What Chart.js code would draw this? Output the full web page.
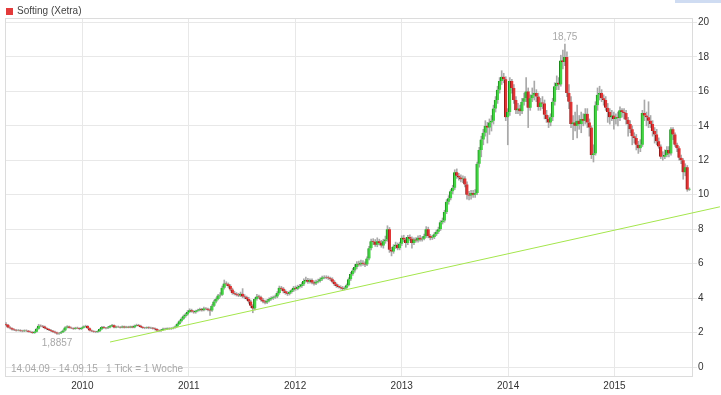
<!DOCTYPE html>
<html>
<head>
<meta charset="utf-8">
<title>Softing (Xetra)</title>
<script src="https://cdn.jsdelivr.net/npm/chart.js@4.4.0/dist/chart.umd.min.js"></script>
<style>
    html, body { margin: 0; padding: 0; background: #fff; }
    #chartBox { position: relative; width: 721px; height: 395px; }
</style>
</head>
<body>
<div id="chartBox"><canvas id="priceChart" width="721" height="395"></canvas></div>
<script>
// Weekly candles, 14.04.09 - 14.09.15 (1 Tick = 1 Woche), index = week number
const opens = [
    2.50, 2.45, 2.30, 2.25, 2.18, 2.15, 2.12, 2.14, 2.10, 2.08,
    2.12, 2.10, 2.05, 2.02, 1.98, 2.05, 2.22, 2.40, 2.38, 2.35,
    2.25, 2.20, 2.15, 2.10, 2.05, 2.00, 1.95, 1.96, 2.02, 2.12,
    2.30, 2.35, 2.28, 2.25, 2.22, 2.28, 2.25, 2.20, 2.28, 2.35,
    2.38, 2.25, 2.12, 2.08, 2.05, 2.03, 2.08, 2.20, 2.32, 2.28,
    2.25, 2.30, 2.38, 2.42, 2.30, 2.34, 2.32, 2.30, 2.35, 2.30,
    2.33, 2.30, 2.35, 2.30, 2.40, 2.44, 2.40, 2.32, 2.28, 2.26,
    2.30, 2.26, 2.28, 2.24, 2.20, 2.12, 2.10, 2.15, 2.22, 2.20,
    2.24, 2.22, 2.25, 2.28, 2.35, 2.50, 2.65, 2.80, 2.95, 3.05,
    3.20, 3.30, 3.22, 3.18, 3.25, 3.30, 3.35, 3.30, 3.40, 3.38,
    3.32, 3.28, 3.55, 3.80, 3.95, 4.15, 4.20, 4.60, 4.85, 4.80,
    4.70, 4.50, 4.30, 4.25, 4.20, 4.15, 4.25, 4.10, 4.05, 3.95,
    3.80, 3.55, 3.40, 3.95, 4.10, 4.05, 3.90, 3.80, 3.75, 3.85,
    3.95, 4.00, 4.05, 4.10, 4.30, 4.60, 4.55, 4.40, 4.30, 4.25,
    4.35, 4.45, 4.60, 4.55, 4.65, 4.70, 4.80, 5.00, 5.05, 4.95,
    5.05, 4.90, 4.85, 4.95, 5.00, 5.10, 5.20, 5.22, 5.20, 5.15,
    5.10, 4.95, 4.80, 4.70, 4.65, 4.60, 4.55, 4.60, 4.75, 5.10,
    5.40, 5.60, 5.80, 6.00, 5.95, 6.05, 6.00, 5.95, 6.30, 6.90,
    7.30, 7.25, 7.10, 7.30, 7.20, 7.05, 7.30, 7.40, 8.00, 6.80,
    6.70, 7.00, 7.10, 6.90, 7.15, 7.50, 7.40, 7.20, 7.55, 7.45,
    7.20, 7.40, 7.35, 7.50, 7.40, 7.45, 7.60, 8.00, 7.60, 7.50,
    7.55, 7.70, 7.85, 8.00, 8.40, 8.50, 9.00, 9.60, 9.80, 10.20,
    10.40, 11.30, 11.10, 11.00, 10.90, 10.95, 10.60, 10.00, 9.95, 10.10,
    10.00, 10.10, 11.80, 12.60, 13.20, 13.60, 14.00, 13.90, 14.20, 14.30,
    15.00, 15.50, 16.10, 16.60, 16.85, 16.70, 14.50, 14.80, 16.60, 16.20,
    15.50, 14.90, 15.00, 14.85, 15.40, 15.60, 16.00, 15.05, 15.60, 15.80,
    15.90, 15.70, 15.10, 15.35, 15.30, 14.65, 14.40, 14.20, 14.50, 15.40,
    16.30, 16.50, 16.40, 17.80, 17.70, 18.00, 15.90, 15.40, 14.10, 14.20,
    14.00, 14.30, 14.10, 14.40, 14.30, 14.70, 14.20, 13.90, 12.30, 12.40,
    15.20, 15.80, 15.90, 15.60, 15.50, 15.05, 14.80, 14.50, 14.60, 14.40,
    14.50, 14.45, 14.90, 14.80, 14.75, 14.35, 14.10, 13.80, 13.40, 13.30,
    12.90, 12.70, 12.90, 14.75, 14.60, 14.50, 14.30, 14.10, 13.70, 13.50,
    13.10, 12.80, 12.20, 12.20, 12.30, 12.60, 12.40, 13.80, 13.50, 12.90,
    12.70, 12.15, 12.00, 11.30, 11.60, 10.30
];
const closes = [
    2.45, 2.30, 2.25, 2.18, 2.15, 2.12, 2.14, 2.10, 2.08, 2.12,
    2.10, 2.05, 2.02, 1.98, 2.05, 2.22, 2.40, 2.38, 2.35, 2.25,
    2.20, 2.15, 2.10, 2.05, 2.00, 1.95, 1.96, 2.02, 2.12, 2.30,
    2.35, 2.28, 2.25, 2.22, 2.28, 2.25, 2.20, 2.28, 2.35, 2.38,
    2.25, 2.12, 2.08, 2.05, 2.03, 2.08, 2.20, 2.32, 2.28, 2.25,
    2.30, 2.38, 2.42, 2.30, 2.34, 2.32, 2.30, 2.35, 2.30, 2.33,
    2.30, 2.35, 2.30, 2.40, 2.44, 2.40, 2.32, 2.28, 2.26, 2.30,
    2.26, 2.28, 2.24, 2.20, 2.12, 2.10, 2.15, 2.22, 2.20, 2.24,
    2.22, 2.25, 2.28, 2.35, 2.50, 2.65, 2.80, 2.95, 3.05, 3.20,
    3.30, 3.22, 3.18, 3.25, 3.30, 3.35, 3.30, 3.40, 3.38, 3.32,
    3.28, 3.55, 3.80, 3.95, 4.15, 4.20, 4.60, 4.85, 4.80, 4.70,
    4.50, 4.30, 4.25, 4.20, 4.15, 4.25, 4.10, 4.05, 3.95, 3.80,
    3.55, 3.40, 3.95, 4.10, 4.05, 3.90, 3.80, 3.75, 3.85, 3.95,
    4.00, 4.05, 4.10, 4.30, 4.60, 4.55, 4.40, 4.30, 4.25, 4.35,
    4.45, 4.60, 4.55, 4.65, 4.70, 4.80, 5.00, 5.05, 4.95, 5.05,
    4.90, 4.85, 4.95, 5.00, 5.10, 5.20, 5.22, 5.20, 5.15, 5.10,
    4.95, 4.80, 4.70, 4.65, 4.60, 4.55, 4.60, 4.75, 5.10, 5.40,
    5.60, 5.80, 6.00, 5.95, 6.05, 6.00, 5.95, 6.30, 6.90, 7.30,
    7.25, 7.10, 7.30, 7.20, 7.05, 7.30, 7.40, 8.00, 6.80, 6.70,
    7.00, 7.10, 6.90, 7.15, 7.50, 7.40, 7.20, 7.55, 7.45, 7.20,
    7.40, 7.35, 7.50, 7.40, 7.45, 7.60, 8.00, 7.60, 7.50, 7.55,
    7.70, 7.85, 8.00, 8.40, 8.50, 9.00, 9.60, 9.80, 10.20, 10.40,
    11.30, 11.10, 11.00, 10.90, 10.95, 10.60, 10.00, 9.95, 10.10, 10.00,
    10.10, 11.80, 12.60, 13.20, 13.60, 14.00, 13.90, 14.20, 14.30, 15.00,
    15.50, 16.10, 16.60, 16.85, 16.70, 14.50, 14.80, 16.60, 16.20, 15.50,
    14.90, 15.00, 14.85, 15.40, 15.60, 16.00, 15.05, 15.60, 15.80, 15.90,
    15.70, 15.10, 15.35, 15.30, 14.65, 14.40, 14.20, 14.50, 15.40, 16.30,
    16.50, 16.40, 17.80, 17.70, 18.00, 15.90, 15.40, 14.10, 14.20, 14.00,
    14.30, 14.10, 14.40, 14.30, 14.70, 14.20, 13.90, 12.30, 12.40, 15.20,
    15.80, 15.90, 15.60, 15.50, 15.05, 14.80, 14.50, 14.60, 14.40, 14.50,
    14.45, 14.90, 14.80, 14.75, 14.35, 14.10, 13.80, 13.40, 13.30, 12.90,
    12.70, 12.90, 14.75, 14.60, 14.50, 14.30, 14.10, 13.70, 13.50, 13.10,
    12.80, 12.20, 12.20, 12.30, 12.60, 12.40, 13.80, 13.50, 12.90, 12.70,
    12.15, 12.00, 11.30, 11.60, 10.30, 10.35
];
const highs = [
    2.58, 2.48, 2.34, 2.28, 2.22, 2.19, 2.18, 2.17, 2.14, 2.16,
    2.16, 2.13, 2.09, 2.06, 2.08, 2.26, 2.48, 2.45, 2.42, 2.38,
    2.28, 2.23, 2.18, 2.13, 2.08, 2.03, 2.00, 2.05, 2.16, 2.34,
    2.40, 2.38, 2.32, 2.28, 2.31, 2.32, 2.28, 2.31, 2.39, 2.43,
    2.41, 2.28, 2.15, 2.11, 2.08, 2.11, 2.23, 2.36, 2.36, 2.31,
    2.34, 2.42, 2.48, 2.45, 2.38, 2.38, 2.35, 2.39, 2.38, 2.37,
    2.37, 2.38, 2.38, 2.44, 2.49, 2.48, 2.43, 2.35, 2.31, 2.33,
    2.34, 2.32, 2.31, 2.27, 2.23, 2.16, 2.18, 2.26, 2.26, 2.28,
    2.28, 2.29, 2.32, 2.39, 2.55, 2.70, 2.86, 3.02, 3.12, 3.28,
    3.38, 3.36, 3.28, 3.30, 3.36, 3.42, 3.40, 3.48, 3.45, 3.42,
    3.38, 3.62, 3.88, 4.02, 4.22, 4.32, 4.70, 5.05, 4.95, 4.88,
    4.78, 4.58, 4.40, 4.32, 4.28, 4.35, 4.55, 4.20, 4.12, 4.05,
    3.88, 3.62, 4.02, 4.22, 4.18, 4.12, 3.98, 3.88, 3.92, 4.02,
    4.08, 4.12, 4.18, 4.38, 4.70, 4.68, 4.62, 4.48, 4.38, 4.42,
    4.52, 4.68, 4.70, 4.75, 4.80, 4.90, 5.12, 5.22, 5.15, 5.12,
    5.12, 5.00, 5.05, 5.10, 5.18, 5.28, 5.30, 5.30, 5.28, 5.22,
    5.18, 5.02, 4.88, 4.78, 4.72, 4.68, 4.66, 4.82, 5.18, 5.50,
    5.72, 5.95, 6.12, 6.15, 6.20, 6.18, 6.10, 6.40, 7.00, 7.42,
    7.45, 7.40, 7.50, 7.42, 7.35, 7.42, 7.60, 8.20, 8.10, 6.95,
    7.10, 7.25, 7.20, 7.25, 7.62, 7.65, 7.50, 7.65, 7.68, 7.55,
    7.50, 7.52, 7.62, 7.65, 7.55, 7.72, 8.15, 8.12, 7.70, 7.65,
    7.80, 7.95, 8.12, 8.50, 8.65, 9.10, 9.72, 9.95, 10.30, 10.55,
    11.45, 11.50, 11.25, 11.15, 11.10, 11.05, 10.75, 10.20, 10.25, 10.25,
    10.30, 11.90, 12.75, 13.40, 13.80, 14.30, 14.20, 14.40, 14.60, 15.20,
    15.70, 16.30, 16.80, 17.20, 17.05, 16.85, 15.00, 16.80, 16.70, 16.40,
    15.70, 15.30, 15.20, 15.60, 15.90, 16.80, 16.20, 15.80, 16.20, 16.60,
    16.10, 15.90, 15.60, 15.70, 15.50, 14.90, 14.60, 14.70, 15.60, 16.50,
    16.90, 16.80, 18.10, 18.40, 18.75, 18.30, 16.40, 15.70, 14.60, 14.80,
    15.20, 14.60, 14.80, 14.70, 15.00, 15.00, 14.40, 14.00, 12.90, 15.40,
    16.20, 16.30, 16.10, 15.80, 15.70, 15.30, 15.00, 14.90, 14.80, 14.70,
    14.80, 15.10, 15.00, 15.00, 14.90, 14.50, 14.30, 14.00, 13.60, 13.50,
    13.10, 13.20, 14.90, 15.50, 14.80, 15.40, 14.60, 14.30, 13.90, 13.80,
    13.30, 12.90, 12.50, 12.60, 12.80, 12.80, 13.90, 13.90, 13.60, 13.00,
    12.80, 12.30, 12.10, 11.80, 11.70, 10.40
];
const lows = [
    2.40, 2.27, 2.21, 2.14, 2.11, 2.08, 2.09, 2.06, 2.04, 2.05,
    2.06, 2.02, 1.99, 1.95, 1.95, 2.02, 2.19, 2.33, 2.30, 2.21,
    2.16, 2.11, 2.06, 2.01, 1.96, 1.89, 1.8857, 1.93, 1.99, 2.09,
    2.26, 2.25, 2.22, 2.18, 2.19, 2.22, 2.16, 2.17, 2.25, 2.31,
    2.22, 2.09, 2.05, 2.01, 1.99, 2.00, 2.05, 2.17, 2.24, 2.21,
    2.22, 2.27, 2.34, 2.27, 2.27, 2.29, 2.26, 2.27, 2.26, 2.27,
    2.27, 2.27, 2.27, 2.27, 2.37, 2.37, 2.29, 2.24, 2.22, 2.23,
    2.22, 2.23, 2.20, 2.16, 2.08, 2.06, 2.07, 2.12, 2.16, 2.17,
    2.18, 2.18, 2.21, 2.25, 2.32, 2.46, 2.60, 2.75, 2.88, 3.00,
    3.15, 3.18, 3.12, 3.12, 3.20, 3.25, 3.24, 3.26, 3.32, 3.26,
    3.00, 3.22, 3.50, 3.72, 3.90, 4.05, 4.15, 4.52, 4.72, 4.62,
    4.42, 4.22, 4.18, 4.12, 4.08, 4.08, 4.02, 3.96, 3.88, 3.70,
    3.45, 3.15, 3.32, 3.88, 3.98, 3.82, 3.72, 3.66, 3.68, 3.78,
    3.88, 3.92, 3.98, 4.02, 4.22, 4.45, 4.30, 4.22, 4.15, 4.18,
    4.28, 4.38, 4.45, 4.48, 4.58, 4.62, 4.72, 4.92, 4.85, 4.86,
    4.82, 4.75, 4.78, 4.88, 4.92, 5.02, 5.12, 5.12, 5.08, 5.02,
    4.88, 4.72, 4.62, 4.58, 4.52, 4.45, 4.48, 4.55, 4.70, 5.02,
    5.32, 5.50, 5.70, 5.85, 5.85, 5.90, 5.82, 5.88, 6.22, 6.80,
    7.10, 7.00, 6.98, 7.08, 6.95, 6.90, 7.18, 7.30, 6.65, 6.45,
    6.60, 6.88, 6.80, 6.80, 7.05, 7.28, 6.95, 7.10, 7.35, 6.90,
    7.10, 7.25, 7.25, 7.30, 7.30, 7.38, 7.52, 7.50, 7.38, 7.40,
    7.45, 7.62, 7.75, 7.92, 8.30, 8.40, 8.90, 9.45, 9.70, 10.05,
    10.30, 10.95, 10.85, 10.75, 10.70, 10.45, 9.75, 9.70, 9.75, 9.85,
    9.85, 10.00, 11.60, 12.20, 12.90, 13.40, 13.00, 13.50, 13.70, 14.10,
    14.80, 15.30, 15.90, 16.40, 16.50, 14.30, 12.90, 14.60, 15.90, 15.30,
    14.70, 14.70, 14.60, 14.70, 15.20, 15.40, 13.90, 14.90, 15.40, 15.50,
    15.40, 14.90, 14.90, 15.00, 14.40, 14.20, 13.90, 14.00, 14.30, 15.20,
    16.10, 16.10, 16.30, 17.30, 17.50, 15.70, 15.00, 13.90, 13.20, 13.70,
    13.30, 13.80, 13.60, 14.00, 14.10, 13.90, 13.40, 12.10, 11.90, 12.30,
    14.90, 15.50, 15.40, 15.20, 14.90, 14.20, 14.10, 14.30, 13.80, 14.10,
    14.00, 14.30, 14.50, 14.40, 14.10, 13.40, 13.60, 12.90, 13.00, 12.60,
    12.40, 12.50, 12.80, 14.30, 14.00, 13.90, 13.90, 13.40, 13.00, 12.90,
    12.70, 12.10, 12.00, 12.10, 12.20, 12.20, 12.30, 13.20, 12.80, 12.50,
    12.00, 11.80, 10.90, 11.10, 10.20, 10.25
];

// Trend line, two anchor points (week, price)
const trendWeeks = [51, 350];
const trendPrices = [1.45, 9.30];

// Axes
const yearLabels = ['2010', '2011', '2012', '2013', '2014', '2015'];
const priceTicks = [0, 2, 4, 6, 8, 10, 12, 14, 16, 18, 20];
const firstWeek = Date.UTC(2009, 3, 14);
const weekMs = 7 * 24 * 3600 * 1000;
const yearWeeks = yearLabels.map(y => (Date.UTC(+y, 0, 1) - firstWeek) / weekMs);

const FONT = 'Arial, "Liberation Sans", sans-serif';
const UP = '#44d444';
const UP_EDGE = '#1f8a1f';
const DOWN = '#e23434';
const DOWN_EDGE = '#8e1a1a';

const wickData = highs.map((h, i) => ({ x: i, y: [lows[i], h] }));
const bodyData = opens.map((o, i) => ({ x: i, y: [o, closes[i]] }));
const bodyColors = opens.map((o, i) => closes[i] >= o ? UP : DOWN);
const bodyEdges = opens.map((o, i) => closes[i] >= o ? UP_EDGE : DOWN_EDGE);
const trendData = trendWeeks.map((w, i) => ({ x: w, y: trendPrices[i] }));

const hiVal = Math.max(...highs);
const loVal = Math.min(...lows);
const hiIdx = highs.indexOf(hiVal);
const loIdx = lows.indexOf(loVal);

const frame = {
    id: 'frame',
    beforeDatasetsDraw(chart) {
        const { ctx, chartArea: a } = chart;
        ctx.save();
        ctx.strokeStyle = '#dcdcdc';
        ctx.lineWidth = 1;
        ctx.strokeRect(a.left + 0.5, a.top + 0.5, a.right - a.left - 1, a.bottom - a.top - 1);
        ctx.restore();
    },
    afterDraw(chart) {
        const { ctx, chartArea: a, scales } = chart;
        ctx.save();
        // legend
        ctx.fillStyle = '#e33b3b';
        ctx.fillRect(6, 8, 7, 7);
        ctx.fillStyle = '#444';
        ctx.font = '10px ' + FONT;
        ctx.textBaseline = 'middle';
        ctx.textAlign = 'left';
        ctx.fillText('Softing (Xetra)', 17, 11.5);
        // top-right tab
        ctx.fillStyle = '#cfdcf2';
        ctx.fillRect(675, 0, 46, 3);
        // extreme values
        ctx.fillStyle = '#a8a8a8';
        ctx.textAlign = 'center';
        ctx.textBaseline = 'bottom';
        ctx.fillText(String(hiVal).replace('.', ','), scales.x.getPixelForValue(hiIdx), scales.y.getPixelForValue(hiVal) - 2);
        ctx.textBaseline = 'top';
        ctx.fillText(String(loVal).replace('.', ','), scales.x.getPixelForValue(loIdx) - 2, scales.y.getPixelForValue(loVal) + 4);
        // period note
        ctx.textAlign = 'left';
        ctx.textBaseline = 'middle';
        ctx.fillText('14.04.09 - 14.09.15   1 Tick = 1 Woche', a.left + 6, a.bottom - 8);
        ctx.restore();
    }
};

const chart = new Chart(document.getElementById('priceChart').getContext('2d'), {
    data: {
        datasets: [
            {
                type: 'line',
                label: 'Trend',
                data: trendData,
                borderColor: '#a4e64c',
                borderWidth: 1,
                pointRadius: 0,
                clip: false,
                order: 0
            },
            {
                type: 'bar',
                label: 'Body',
                data: bodyData,
                backgroundColor: bodyColors,
                borderColor: bodyEdges,
                borderWidth: { left: 1, right: 0, top: 0, bottom: 0 },
                borderSkipped: false,
                barThickness: 3,
                grouped: false,
                order: 1
            },
            {
                type: 'bar',
                label: 'Wick',
                data: wickData,
                backgroundColor: '#a9a9a9',
                borderWidth: 0,
                barThickness: 1,
                grouped: false,
                order: 2
            }
        ]
    },
    options: {
        responsive: false,
        animation: false,
        layout: { padding: { left: 5, top: 18, right: 0, bottom: 0 } },
        plugins: {
            legend: { display: false },
            tooltip: { enabled: false }
        },
        scales: {
            x: {
                type: 'linear',
                min: -0.5,
                max: 336.8,
                offset: false,
                border: { display: false },
                grid: { color: '#e8e8e8', drawTicks: false, offset: false },
                ticks: {
                    font: { family: FONT, size: 10 },
                    color: '#333',
                    padding: 3,
                    maxRotation: 0,
                    callback: (v, i) => yearLabels[i]
                },
                afterBuildTicks: s => { s.ticks = yearWeeks.map(v => ({ value: v })); },
                afterFit: s => { s.height = 18; }
            },
            y: {
                type: 'linear',
                position: 'right',
                min: -0.58,
                max: 20.26,
                border: { display: false },
                grid: { color: '#e8e8e8', tickLength: 4 },
                ticks: {
                    font: { family: FONT, size: 10 },
                    color: '#333',
                    padding: 1,
                    callback: v => String(v)
                },
                afterBuildTicks: s => { s.ticks = priceTicks.map(v => ({ value: v })); },
                afterFit: s => { s.width = 28; }
            }
        }
    },
    plugins: [frame]
});
</script>
</body>
</html>
